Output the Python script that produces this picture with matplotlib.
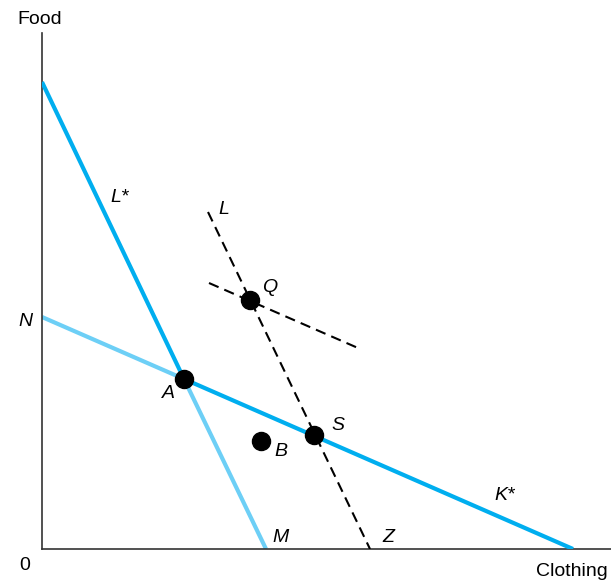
import numpy as np
from matplotlib import pyplot as plt

plt.rcParams['font.family'] = ['Liberation Sans', 'DejaVu Sans']

# budget lines (intercepts on the food axis / clothing axis)
lstar_y0 = 46.7
lstar_x0 = 22.4
n_y0 = 23.2
k_x0 = 53.1

# points
pt_names = ['A', 'Q', 'S', 'B']
pt_x = [14.2, 20.8, 27.2, 21.9]
pt_y = [17.0, 24.9, 11.4, 10.8]

# dashed lines
l_x = [16.6, 32.8]
l_y = [33.7, 0.0]
q_x = [16.7, 31.6]
q_y = [26.6, 20.1]

dark = '#00aeef'
light = '#6dcff6'

fig = plt.figure(figsize=(6.11, 5.83), dpi=100)
ax = fig.add_axes([42/611, 34/583, 569/611, 516/583])

ax_x = pt_x[0]
ax_y = pt_y[0]
# L* ... A (dark) then A ... M (light)
ax.plot([0, ax_x], [lstar_y0, ax_y], color=dark, lw=3, solid_capstyle='butt', zorder=3)
ax.plot([ax_x, lstar_x0], [ax_y, 0], color=light, lw=3, solid_capstyle='butt', zorder=2)
# N ... A (light) then A ... K* (dark)
ax.plot([0, ax_x], [n_y0, ax_y], color=light, lw=3, solid_capstyle='butt', zorder=2)
ax.plot([ax_x, k_x0], [ax_y, 0], color=dark, lw=3, solid_capstyle='butt', zorder=3)

ax.plot(l_x, l_y, color='black', lw=1.5, dashes=(5, 3), zorder=4)
ax.plot(q_x, q_y, color='black', lw=1.5, dashes=(5, 3), zorder=4)

ax.plot(pt_x, pt_y, 'o', color='black', ms=13, zorder=5)

lab = dict(fontsize=14, style='italic', ha='center', va='center')
ax.text(7.8, 35.1, 'L*', **lab)
ax.text(18.2, 33.9, 'L', **lab)
ax.text(22.8, 26.2, 'Q', **lab)
ax.text(12.6, 15.5, 'A', **lab)
ax.text(29.6, 12.4, 'S', **lab)
ax.text(23.9, 9.8, 'B', **lab)
ax.text(46.3, 5.3, 'K*', **lab)
ax.text(23.9, 1.2, 'M', **lab)
ax.text(34.6, 1.2, 'Z', **lab)
ax.text(-1.7, 22.8, 'N', **lab)

ax.text(-0.2, 53.0, 'Food', fontsize=14, va='center', ha='center')
ax.text(-1.7, -1.6, '0', fontsize=14, va='center', ha='center')
ax.text(56.6, -2.3, 'Clothing', fontsize=14, va='center', ha='right')

ax.set_xlim(0, 56.9)
ax.set_ylim(0, 51.6)
ax.spines['top'].set_visible(False)
ax.spines['right'].set_visible(False)
for s in ['left', 'bottom']:
    ax.spines[s].set_color('#333333')
    ax.spines[s].set_linewidth(1.2)
ax.set_xticks([])
ax.set_yticks([])

for t in ax.texts:
    t.set_clip_on(False)

plt.savefig('out.png', dpi=100)
